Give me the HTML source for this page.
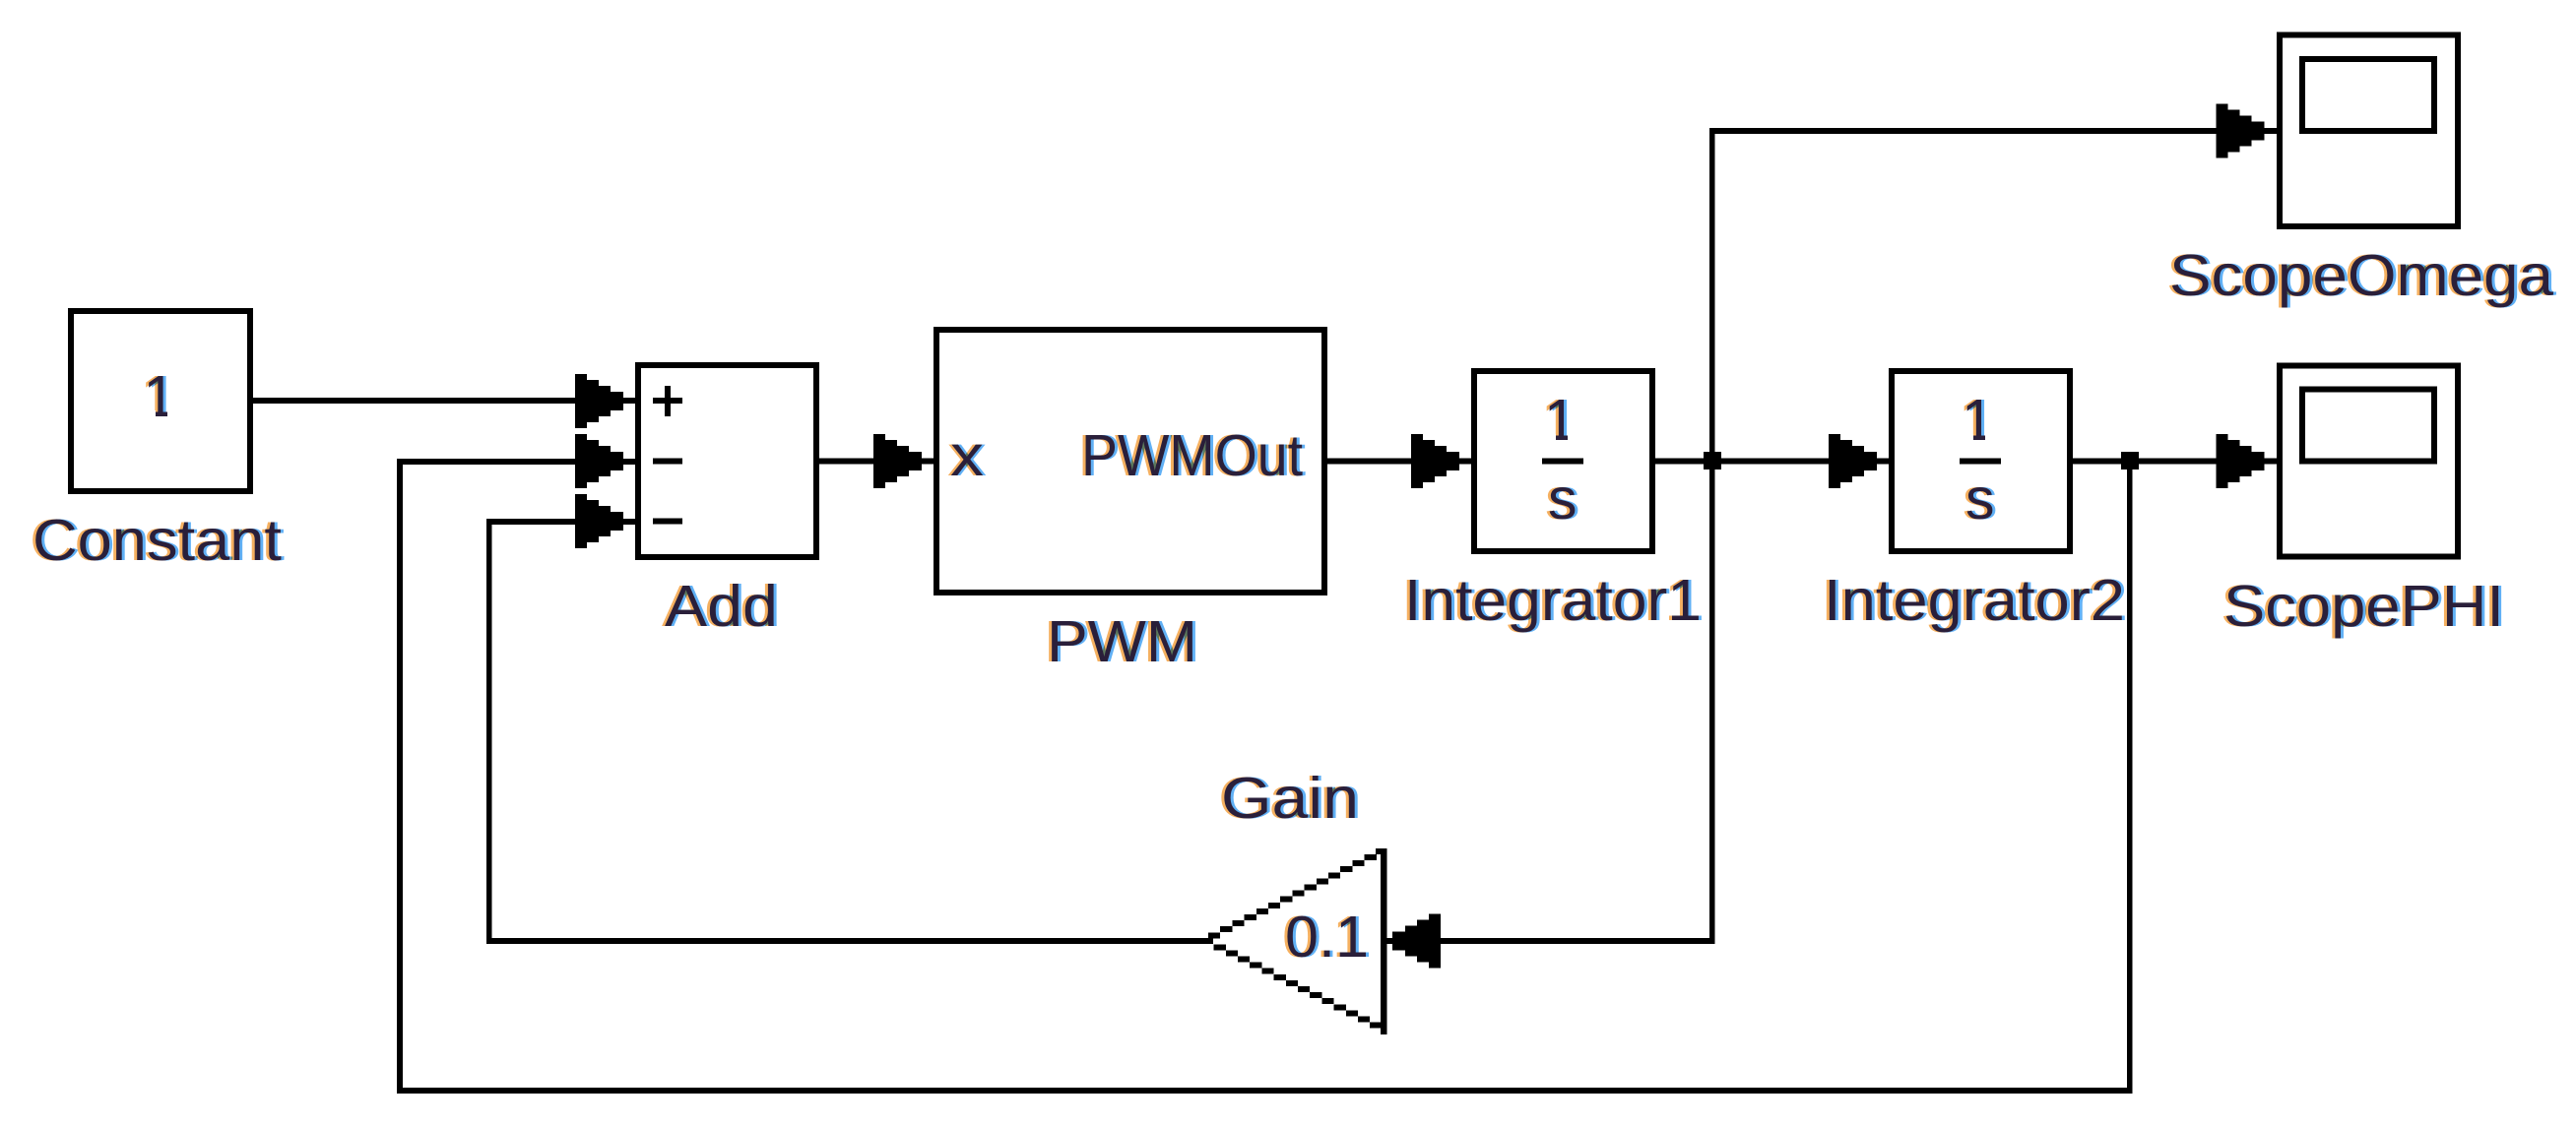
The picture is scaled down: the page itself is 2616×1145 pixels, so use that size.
<!DOCTYPE html>
<html>
<head>
<meta charset="utf-8">
<title>Simulink diagram</title>
<style>
html,body{margin:0;padding:0;background:#fff;width:2616px;height:1145px;overflow:hidden}
svg{display:block}
text{font-family:"Liberation Sans",Arial,sans-serif;font-size:59px;fill:#2a1f3a}
</style>
</head>
<body>
<svg xmlns="http://www.w3.org/2000/svg" width="2616" height="1145" viewBox="0 0 2616 1145">
<defs>
<filter id="lcd" x="-3%" y="-3%" width="106%" height="106%" filterUnits="objectBoundingBox" color-interpolation-filters="sRGB">
<feFlood flood-color="#f5b060" result="o"/>
<feOffset in="SourceAlpha" dx="-3" result="oa"/>
<feComposite in="o" in2="oa" operator="in" result="oc"/>
<feFlood flood-color="#60b0f5" result="b"/>
<feOffset in="SourceAlpha" dx="3" result="ba"/>
<feComposite in="b" in2="ba" operator="in" result="bc"/>
<feBlend in="oc" in2="bc" mode="multiply" result="m"/>
<feMerge><feMergeNode in="m"/><feMergeNode in="SourceGraphic"/></feMerge>
</filter>
<path id="ar" d="M0-27.5H12V-21.5H24V-15.500H36V-9.500H49V9.500H36V15.500H24V21.500H12V27.500H0Z"/>
</defs>
<rect width="2616" height="1145" fill="#fff"/>

<g fill="#000" shape-rendering="crispEdges">
<!-- connectors -->
<rect x="257" y="404" width="389" height="6"/>
<rect x="403" y="466" width="243" height="6"/>
<rect x="403" y="466" width="6" height="645"/>
<rect x="403" y="1105" width="1762" height="6"/>
<rect x="2160" y="466" width="5.500" height="645"/>
<rect x="494" y="527" width="152" height="6"/>
<rect x="494" y="527" width="5.500" height="432"/>
<rect x="494" y="953" width="738" height="6"/>
<rect x="1408" y="953" width="333.500" height="6"/>
<rect x="1736" y="130" width="5.500" height="829"/>
<rect x="1736" y="130" width="576" height="6"/>
<rect x="832" y="465.500" width="116" height="6"/>
<rect x="1348" y="465.500" width="146" height="6"/>
<rect x="1681" y="465.500" width="237" height="6"/>
<rect x="2105" y="465.500" width="207" height="6"/>
<!-- junctions -->
<rect x="1730" y="459" width="18" height="18"/>
<rect x="2154" y="459" width="18" height="18"/>
<!-- arrowheads -->
<use href="#ar" x="584" y="407.500"/>
<use href="#ar" x="584" y="468.500"/>
<use href="#ar" x="584" y="529.500"/>
<use href="#ar" x="887" y="468.500"/>
<use href="#ar" x="1433" y="468.500"/>
<use href="#ar" x="1857" y="468.500"/>
<use href="#ar" x="2250.500" y="468.500"/>
<use href="#ar" x="2250.500" y="133"/>
<use href="#ar" transform="translate(1463,956) scale(-1,1)"/>
</g>

<g fill="none" stroke="#000" stroke-width="6" shape-rendering="crispEdges">
<rect x="72" y="316" width="182" height="183"/>
<rect x="648" y="371" width="181" height="195"/>
<rect x="951" y="335" width="394" height="267"/>
<rect x="1497" y="377" width="181" height="183"/>
<rect x="1921" y="377" width="181" height="183"/>
<rect x="2315" y="35.500" width="181" height="194.500"/>
<rect x="2338" y="60" width="134" height="73"/>
<rect x="2315" y="371.500" width="181" height="194"/>
<rect x="2338" y="395.500" width="134" height="73"/>
</g>

<g fill="#000" shape-rendering="crispEdges">
<!-- add signs -->
<rect x="663" y="404" width="30" height="6"/>
<rect x="675" y="392" width="6" height="31"/>
<rect x="663" y="465.500" width="30" height="6"/>
<rect x="663" y="526.500" width="30" height="6"/>
<!-- fraction bars -->
<rect x="1566" y="465.500" width="42" height="6"/>
<rect x="1990" y="465.500" width="42" height="6"/>
<!-- gain triangle -->
<rect x="1402" y="862" width="6.500" height="189"/>
<rect x="1227" y="947.300" width="12.200" height="6"/>
<rect x="1239.200" y="941.200" width="12.200" height="6"/>
<rect x="1251.400" y="935.100" width="12.200" height="6"/>
<rect x="1263.600" y="929" width="12.200" height="6"/>
<rect x="1275.800" y="922.900" width="12.200" height="6"/>
<rect x="1288" y="916.800" width="12.200" height="6"/>
<rect x="1300.200" y="910.700" width="12.200" height="6"/>
<rect x="1312.400" y="904.600" width="12.200" height="6"/>
<rect x="1324.600" y="898.500" width="12.200" height="6"/>
<rect x="1336.800" y="892.400" width="12.200" height="6"/>
<rect x="1349" y="886.300" width="12.200" height="6"/>
<rect x="1361.200" y="880.200" width="12.200" height="6"/>
<rect x="1373.400" y="874.100" width="12.200" height="6"/>
<rect x="1385.600" y="868" width="12.200" height="6"/>
<rect x="1397" y="862" width="11.500" height="6"/>
<rect x="1232.600" y="959.300" width="12.200" height="6"/>
<rect x="1244.800" y="965.400" width="12.200" height="6"/>
<rect x="1257" y="971.500" width="12.200" height="6"/>
<rect x="1269.200" y="977.600" width="12.200" height="6"/>
<rect x="1281.400" y="983.700" width="12.200" height="6"/>
<rect x="1293.600" y="989.800" width="12.200" height="6"/>
<rect x="1305.800" y="995.900" width="12.200" height="6"/>
<rect x="1318" y="1002" width="12.200" height="6"/>
<rect x="1330.200" y="1008.100" width="12.200" height="6"/>
<rect x="1342.400" y="1014.200" width="12.200" height="6"/>
<rect x="1354.600" y="1020.300" width="12.200" height="6"/>
<rect x="1366.800" y="1026.400" width="12.200" height="6"/>
<rect x="1379" y="1032.500" width="12.200" height="6"/>
<rect x="1391" y="1038.500" width="12.200" height="6"/>
</g>

<g filter="url(#lcd)">
<text x="33" y="569" textLength="253" lengthAdjust="spacingAndGlyphs">Constant</text>
<text x="675" y="636" textLength="115" lengthAdjust="spacingAndGlyphs">Add</text>
<text x="1063" y="672" textLength="153" lengthAdjust="spacingAndGlyphs">PWM</text>
<text x="965" y="483" textLength="34" lengthAdjust="spacingAndGlyphs">x</text>
<text x="1098" y="483" textLength="225" lengthAdjust="spacingAndGlyphs">PWMOut</text>
<text x="1426" y="630" textLength="302" lengthAdjust="spacingAndGlyphs">Integrator1</text>
<text x="1852" y="630" textLength="306" lengthAdjust="spacingAndGlyphs">Integrator2</text>
<text x="2203" y="300" textLength="390" lengthAdjust="spacingAndGlyphs">ScopeOmega</text>
<text x="2258" y="636" textLength="285" lengthAdjust="spacingAndGlyphs">ScopePHI</text>
<text x="1240" y="831" textLength="140" lengthAdjust="spacingAndGlyphs">Gain</text>
<text x="1305" y="972" textLength="85" lengthAdjust="spacingAndGlyphs">0.1</text>
<text x="145.500" y="423">1</text>
<text x="1568" y="447">1</text>
<text x="1992" y="447">1</text>
<text x="1572" y="527">s</text>
<text x="1996" y="527">s</text>
</g>
<!-- remove the foot serif of the standalone digits, as in the bitmap font -->
<g fill="#fff" shape-rendering="crispEdges">
<rect x="146" y="417" width="12" height="8"/>
<rect x="170" y="417" width="14" height="8"/>
<rect x="1568" y="441" width="12" height="8"/>
<rect x="1592" y="441" width="14" height="8"/>
<rect x="1992" y="441" width="12" height="8"/>
<rect x="2016" y="441" width="14" height="8"/>
</g>
</svg>
</body>
</html>
